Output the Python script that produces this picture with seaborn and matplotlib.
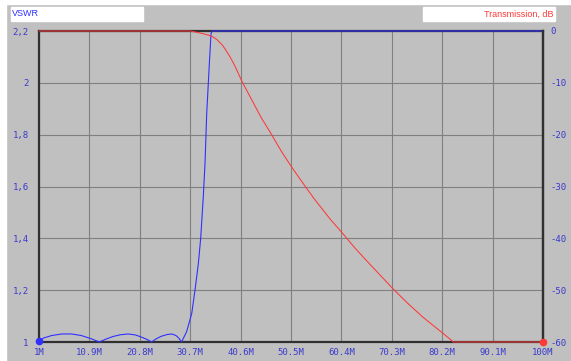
import numpy as np
import pandas as pd
import matplotlib
matplotlib.use("Agg")
import matplotlib.pyplot as plt
import seaborn as sns
from matplotlib.patches import Rectangle

# frequency axis, MHz
x_ticks = [1, 10.9, 20.8, 30.7, 40.6, 50.5, 60.4, 70.3, 80.2, 90.1, 100]
x_labels = ["1M", "10.9M", "20.8M", "30.7M", "40.6M", "50.5M", "60.4M",
            "70.3M", "80.2M", "90.1M", "100M"]
vswr_ticks = [1.0, 1.2, 1.4, 1.6, 1.8, 2.0, 2.2]
vswr_labels = ["1", "1,2", "1,4", "1,6", "1,8", "2", "2,2"]
db_ticks = [-60, -50, -40, -30, -20, -10, 0]
db_labels = ["-60", "-50", "-40", "-30", "-20", "-10", "0"]

# VSWR trace (clipped at 2.2 like the original display)
vswr_f = [1, 2, 3.5, 5.5, 7.4, 9.3, 11.2, 12.85,
          14, 15.5, 17, 18.5, 20, 21.5, 22.4, 23.1,
          24, 25, 26.2, 27.1, 27.9, 28.5, 29.0,
          30.0, 31.0, 31.64, 32.29, 32.76, 33.27, 33.61, 33.94, 34.45, 34.79,
          35.0, 100]
vswr = [1.005, 1.016, 1.025, 1.031, 1.031, 1.025, 1.013, 1.0,
        1.01, 1.021, 1.028, 1.031, 1.027, 1.016, 1.008, 1.0,
        1.012, 1.022, 1.029, 1.031, 1.025, 1.014, 1.0,
        1.04, 1.11, 1.2, 1.30, 1.4, 1.56, 1.69, 1.88, 2.07, 2.19,
        2.2, 2.2]

# transmission trace, dB (clipped at -60)
tr_f = [1, 30.7, 32.0, 33.5, 34.3, 35.0, 35.5, 36.0, 37.0, 37.5, 38.0, 38.5,
        39.0, 39.5, 40.0, 40.8, 42.8, 44.7, 46.7, 48.6, 50.6, 52.3, 55.0,
        58.2, 60.6, 63.0, 66.0, 70.6, 73.5, 76.4, 80.2, 82.4, 100]
tr_db = [0, 0, -0.25, -0.6, -0.8, -1.05, -1.35, -1.7, -2.7, -3.4, -4.15, -4.95,
         -5.85, -6.8, -7.85, -9.6, -13.3, -16.8, -20.0, -23.2, -26.2, -28.6,
         -32.3, -36.3, -39.0, -41.8, -45.0, -49.8, -52.6, -55.2, -58.2, -60, -60]

grey = "#c0c0c0"
tick_col = "#3a3acc"
blue = "#3030ff"
red = "#ff3838"

sns.set_theme(style="white", rc={"axes.facecolor": grey, "figure.facecolor": grey})
plt.rcParams["font.family"] = ["DejaVu Sans Mono"]

W, H = 571, 361
fig = plt.figure(figsize=(W / 100, H / 100), dpi=100)
ax = fig.add_axes([39 / W, 19 / H, 504 / W, 311 / H])
ax2 = ax.twinx()
ax2.patch.set_visible(False)

vdf = pd.DataFrame({"f": vswr_f, "vswr": vswr})
tdf = pd.DataFrame({"f": tr_f, "db": tr_db})

sns.lineplot(data=vdf, x="f", y="vswr", ax=ax, color=blue, lw=0.8,
             sort=False, zorder=3, clip_on=False)
sns.lineplot(data=tdf, x="f", y="db", ax=ax2, color=red, lw=0.75,
             sort=False, zorder=3, clip_on=False)
ax.plot([vswr_f[0]], [vswr[0]], "o", color=blue, ms=4.5, zorder=4, clip_on=False)
ax2.plot([tr_f[-1]], [tr_db[-1]], "o", color=red, ms=4.5, zorder=4, clip_on=False)

ax.set_xlim(1, 100)
ax.set_ylim(1, 2.2)
ax2.set_ylim(-60, 0)
ax.set_xticks(x_ticks)
ax.set_xticklabels(x_labels)
ax.set_yticks(vswr_ticks)
ax.set_yticklabels(vswr_labels)
ax2.set_yticks(db_ticks)
ax2.set_yticklabels(db_labels)
ax.set_xlabel("")
ax.set_ylabel("")
ax2.set_ylabel("")

ax.grid(True, color="#808080", lw=0.8)
ax.set_axisbelow(True)
ax.tick_params(axis="both", length=0, labelsize=6.5, labelcolor=tick_col)
ax.tick_params(axis="y", pad=7.5)
ax.tick_params(axis="x", pad=4.5)
ax2.tick_params(axis="y", length=0, labelsize=6.5, labelcolor=tick_col, pad=5)

for s in ax.spines.values():
    s.set_color("#303030")
    s.set_linewidth(1.6)
for k in ["top", "bottom", "left"]:
    ax2.spines[k].set_visible(False)
ax2.spines["right"].set_color("#303030")
ax2.spines["right"].set_linewidth(1.6)

# white margins and the two legend boxes
fig.patches.append(Rectangle((0, 0), 6 / W, 1, transform=fig.transFigure,
                             color="white", zorder=0))
fig.patches.append(Rectangle((0, 1 - 4 / H), 1, 4 / H, transform=fig.transFigure,
                             color="white", zorder=0))
fig.patches.append(Rectangle((11 / W, 1 - 21 / H), 132 / W, 14 / H,
                             transform=fig.transFigure, color="white", zorder=1))
fig.patches.append(Rectangle((423 / W, 1 - 21 / H), 132 / W, 14 / H,
                             transform=fig.transFigure, color="white", zorder=1))
fig.text(12 / W, 1 - 14 / H, "VSWR", color=blue, fontsize=6.5,
         family="Liberation Sans", va="center", ha="left")
fig.text(553 / W, 1 - 14 / H, "Transmission, dB", color=red, fontsize=6.5,
         family="Liberation Sans", va="center", ha="right")

fig.savefig("out.png", dpi=100, facecolor=grey)
